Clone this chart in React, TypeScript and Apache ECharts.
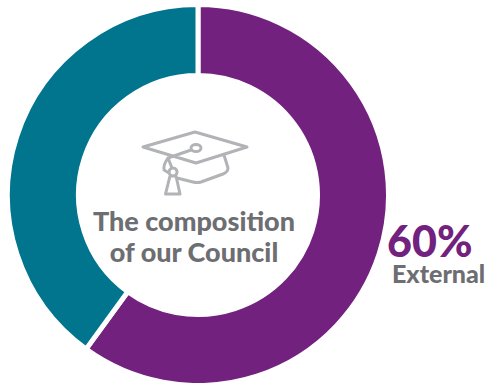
import React, { useEffect, useRef } from "react";
import * as echarts from "echarts";

const segmentNames = ["External", "Internal"];
const segmentValues = [60, 40];
const segmentColors = ["#72217E", "#00758D"];
const centerLines = ["The composition", "of our Council"];
const calloutValue = "60%";
const calloutLabel = "External";

const capOutline =
  "M143 147 L195 132 L247 147 L196 163 Z " +
  "M191 148 a5 3.5 0 1 0 10 0 a5 3.5 0 1 0 -10 0 Z " +
  "M191 150 L168 158 " +
  "M224 155 L228 168 Q228 172 223 174 L201 182 Q197 183 193 182 L177 178 " +
  "M168 158 Q163 165 164 170 L169 173 " +
  "M168 158 L172 168 " +
  "M173 168 a4 4 0 1 0 0.1 0 Z " +
  "M170 176 L165.5 194 L180 194 L176 176";

echarts.graphic.registerShape("gradCap", echarts.graphic.extendPath(capOutline, {}));

export default function App() {
  const ref = useRef<HTMLDivElement>(null);
  useEffect(() => {
    document.body.style.margin = "0";
    const chart = echarts.init(ref.current!, null, { renderer: "svg" });
    const font = "Lato, sans-serif";
    chart.setOption({
      animation: false,
      backgroundColor: "#ffffff",
      series: [
        {
          type: "pie",
          center: [198, 195],
          radius: [119.5, 190.5],
          startAngle: 90,
          clockwise: true,
          silent: true,
          label: { show: false },
          labelLine: { show: false },
          itemStyle: { borderColor: "#ffffff", borderWidth: 5 },
          data: segmentValues.map((value, i) => ({
            name: segmentNames[i],
            value,
            itemStyle: { color: segmentColors[i] },
          })),
        },
      ],
      graphic: [
        {
          type: "gradCap",
          x: 0,
          y: 0,
          silent: true,
          style: { fill: "none", stroke: "#B1B3B6", lineWidth: 3, lineJoin: "round", lineCap: "round" },
        },
        ...centerLines.map((text, i) => ({
          type: "text",
          x: 194,
          y: 220 + i * 31,
          silent: true,
          style: {
            text,
            fill: "#6D6E71",
            font: `900 27px ${font}`,
            align: "center",
            verticalAlign: "middle",
          },
        })),
        {
          type: "text",
          x: 387,
          y: 240,
          silent: true,
          style: { text: calloutValue, fill: "#72217E", font: `900 43px ${font}`, align: "left", verticalAlign: "middle" },
        },
        {
          type: "text",
          x: 392,
          y: 273,
          silent: true,
          style: { text: calloutLabel, fill: "#6D6E71", font: `900 25px ${font}`, align: "left", verticalAlign: "middle" },
        },
      ],
    });
    return () => chart.dispose();
  }, []);
  return <div ref={ref} style={{ width: 494, height: 383 }} />;
}
